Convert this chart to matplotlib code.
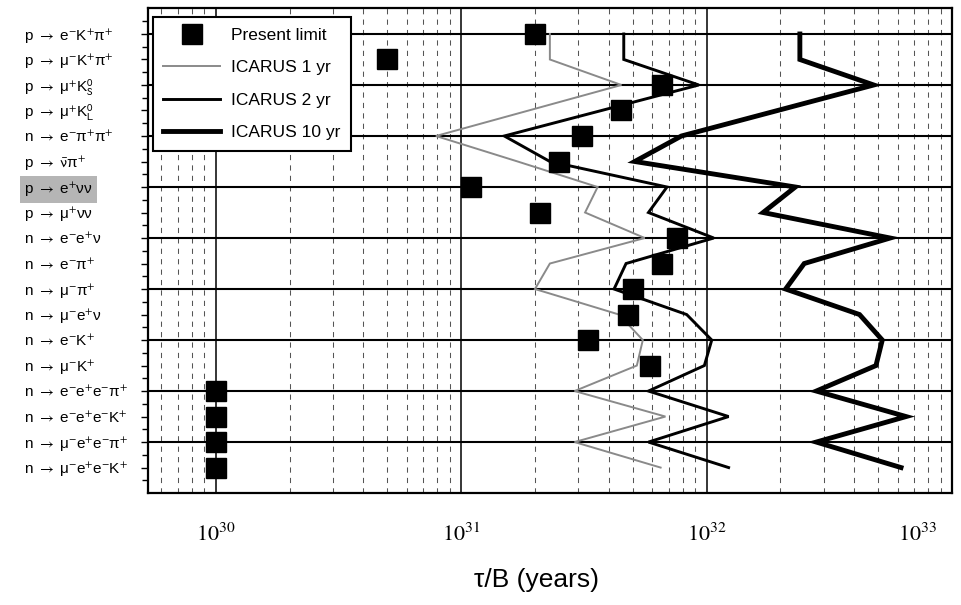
import numpy as np
import matplotlib
matplotlib.use('Agg')
import matplotlib.pyplot as plt
from matplotlib.lines import Line2D
from matplotlib.transforms import ScaledTranslation

plt.rcParams['font.family'] = ['Liberation Sans', 'DejaVu Sans']

# ---------------- data ----------------
channels = [
    r'p $\rightarrow$ e$^{-}$K$^{+}$π$^{+}$',
    r'p $\rightarrow$ μ$^{-}$K$^{+}$π$^{+}$',
    r'p $\rightarrow$ μ$^{+}$K$^{0}_{\mathrm{S}}$',
    r'p $\rightarrow$ μ$^{+}$K$^{0}_{\mathrm{L}}$',
    r'n $\rightarrow$ e$^{-}$π$^{+}$π$^{+}$',
    r'p $\rightarrow$ $\bar{\mathrm{\nu}}$π$^{+}$',
    r'p $\rightarrow$ e$^{+}$νν',
    r'p $\rightarrow$ μ$^{+}$νν',
    r'n $\rightarrow$ e$^{-}$e$^{+}$ν',
    r'n $\rightarrow$ e$^{-}$π$^{+}$',
    r'n $\rightarrow$ μ$^{-}$π$^{+}$',
    r'n $\rightarrow$ μ$^{-}$e$^{+}$ν',
    r'n $\rightarrow$ e$^{-}$K$^{+}$',
    r'n $\rightarrow$ μ$^{-}$K$^{+}$',
    r'n $\rightarrow$ e$^{-}$e$^{+}$e$^{-}$π$^{+}$',
    r'n $\rightarrow$ e$^{-}$e$^{+}$e$^{-}$K$^{+}$',
    r'n $\rightarrow$ μ$^{-}$e$^{+}$e$^{-}$π$^{+}$',
    r'n $\rightarrow$ μ$^{-}$e$^{+}$e$^{-}$K$^{+}$',
]
highlighted_channel = 6

present_limit = [2.0e31, 5.0e30, 6.6e31, 4.5e31, 3.1e31, 2.5e31, 1.1e31, 2.1e31, 7.6e31,
                 6.6e31, 5.0e31, 4.8e31, 3.3e31, 5.9e31, 1.0e30, 1.0e30, 1.0e30, 1.0e30]
icarus_1yr = [2.3e31, 2.3e31, 4.5e31, np.nan, 7.9e30, 1.7e31, 3.6e31, 3.2e31, 5.6e31,
              2.3e31, 2.0e31, 4.4e31, 5.5e31, 5.2e31, 2.9e31, 6.8e31, 2.9e31, 6.5e31]
icarus_2yr = [4.6e31, 4.6e31, 9.3e31, np.nan, 1.5e31, 2.3e31, 6.9e31, 5.8e31, 1.07e32,
              4.7e31, 4.2e31, 8.3e31, 1.05e32, 9.8e31, 5.8e31, 1.23e32, 5.8e31, 1.23e32]
icarus_10yr = [2.4e32, 2.4e32, 4.8e32, np.nan, 7.9e31, 5.1e31, 2.3e32, 1.7e32, 5.6e32,
               2.5e32, 2.1e32, 4.2e32, 5.2e32, 4.9e32, 2.8e32, 6.5e32, 2.8e32, 6.2e32]

x_ticks = [1e30, 1e31, 1e32, 1e33]
x_tick_labels = [r'$10^{30}$', r'$10^{31}$', r'$10^{32}$', r'$10^{33}$']
legend_labels = ['Present limit', 'ICARUS 1 yr', 'ICARUS 2 yr', 'ICARUS 10 yr']

# ---------------- figure ----------------
fig = plt.figure(figsize=(9.62, 6.05), dpi=100)
ax = fig.add_axes([0.1538, 0.185, 0.8358, 0.801])
ax.set_xscale('log')
ax.set_xlim(5.3e29, 1e33)
ax.set_ylim(19, 0)

ypos = np.arange(1, len(channels) + 1)

# grid
for yy in range(1, 19, 2):
    ax.axhline(yy, color='k', lw=1.5, zorder=1)
for d in [1e30, 1e31, 1e32]:
    ax.axvline(d, color='k', lw=1.1, zorder=1)
for n in [29, 30, 31, 32]:
    for k in range(2, 10):
        v = k * 10.0 ** n
        if 5.3e29 < v < 1e33:
            ax.axvline(v, color='#555555', lw=0.75, ls=(0, (5, 5)), zorder=0.5)

gray = '#8a8a8a'
styles = [(icarus_1yr, dict(color=gray, lw=1.4)),
          (icarus_2yr, dict(color='k', lw=2.1)),
          (icarus_10yr, dict(color='k', lw=3.5))]
for vals, st in styles:
    v = np.array(vals, dtype=float)
    m = ~np.isnan(v)
    ax.plot(v[m], ypos[m], zorder=3, solid_joinstyle='miter', **st)

ax.plot(present_limit, ypos, ls='none', marker='s', color='k', markersize=14, zorder=4)

# axes styling
for s in ax.spines.values():
    s.set_linewidth(1.6)
ax.set_xticks(x_ticks)
ax.set_xticks([], minor=True)
ax.set_xticklabels(x_tick_labels, math_fontfamily='stix', fontsize=16)
ax.tick_params(axis='x', which='both', length=0, pad=22)
last = ax.get_xticklabels()[-1]
last.set_ha('right')
last.set_transform(last.get_transform() + ScaledTranslation(-0.15, 0, fig.dpi_scale_trans))

ax.set_yticks(ypos)
ax.set_yticklabels(channels, fontsize=11, math_fontfamily='stixsans')
ax.set_yticks(np.arange(0.5, 19, 1.0), minor=True)
ax.tick_params(axis='y', which='major', length=5, width=1, direction='out', pad=84)
ax.tick_params(axis='y', which='minor', length=4, width=1, direction='out')
for t in ax.get_yticklabels():
    t.set_ha('left')
ax.get_yticklabels()[highlighted_channel].set_bbox(
    dict(facecolor='#b5b5b5', edgecolor='none', pad=3))

fig.text(0.558, 0.041, 'τ/B (years)', fontsize=19, ha='center', va='center')

handles = [Line2D([], [], ls='none', marker='s', color='k', markersize=14),
           Line2D([], [], color=gray, lw=1.4),
           Line2D([], [], color='k', lw=2.1),
           Line2D([], [], color='k', lw=3.5)]
leg = ax.legend(handles, legend_labels, loc='upper left', bbox_to_anchor=(0.006, 0.982),
                borderaxespad=0, frameon=True, fancybox=False, edgecolor='k',
                fontsize=12.5, handlelength=3.3, handletextpad=0.6, labelspacing=1.0,
                borderpad=0.6, framealpha=1)
leg.get_frame().set_linewidth(1.5)
leg.set_zorder(6)

fig.savefig('out.png', dpi=100)
